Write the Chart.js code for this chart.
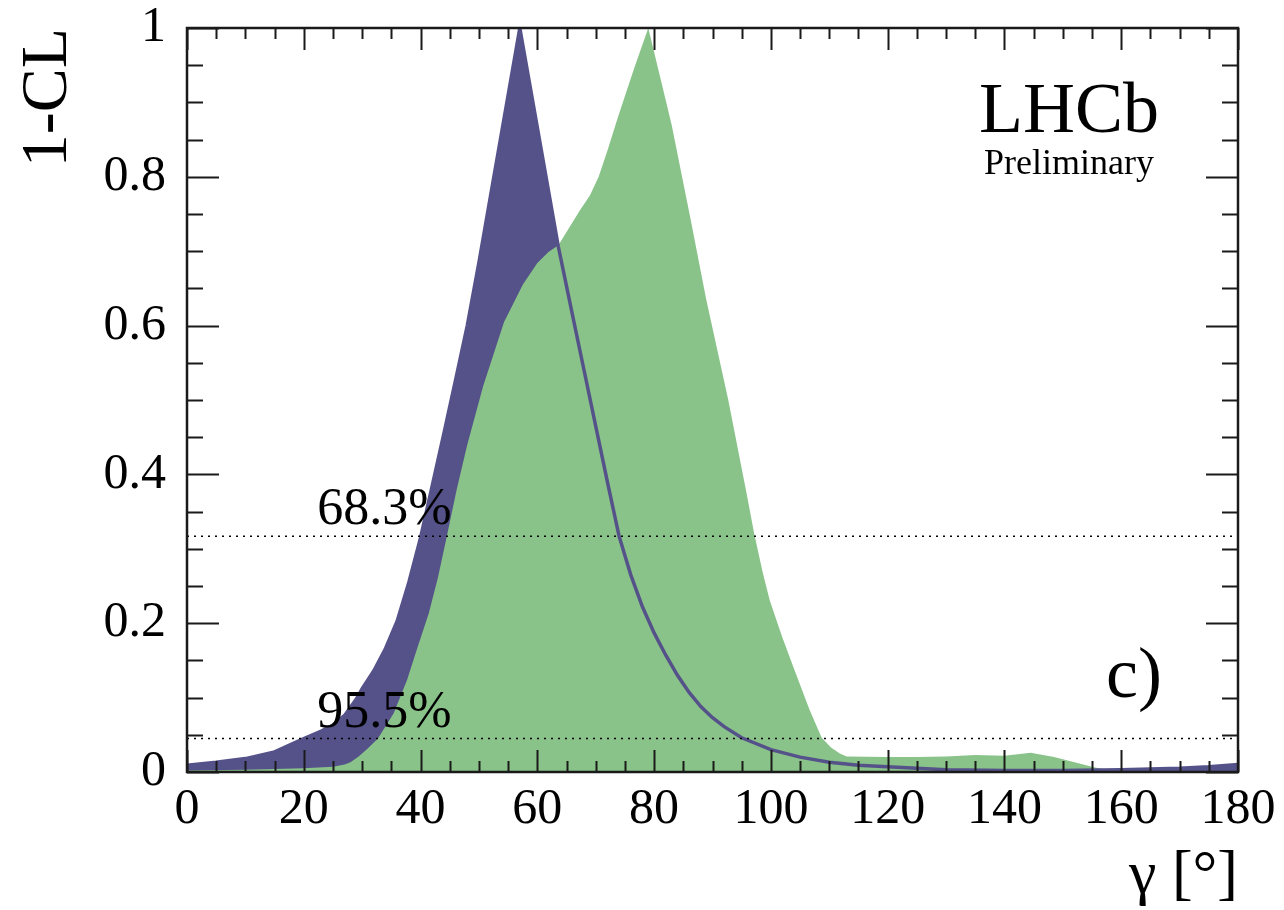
<!DOCTYPE html>
<html>
<head>
<meta charset="utf-8">
<script src="https://cdn.jsdelivr.net/npm/chart.js@4/dist/chart.umd.min.js"></script>
<style>
  html, body { margin: 0; padding: 0; background: #ffffff; }
  #wrap { width: 1284px; height: 910px; }
</style>
</head>
<body>
<div id="wrap"><canvas id="c" width="1284" height="910"></canvas></div>
<script>
// ---- data ----
const blueX = [0, 5, 10, 15, 20, 23, 25, 27, 29, 30, 32, 34, 36, 38, 40, 42, 44, 46, 48, 50, 52, 54, 56, 57, 63.6, 66, 68, 70, 72, 74, 76, 78, 80, 82, 84, 86, 88, 90, 92, 95, 100, 105, 110, 115, 120, 130, 140, 150, 160, 170, 175, 180];
const blueY = [0.009, 0.013, 0.018, 0.027, 0.045, 0.055, 0.063, 0.076, 0.098, 0.112, 0.136, 0.166, 0.203, 0.255, 0.315, 0.385, 0.455, 0.527, 0.600, 0.685, 0.775, 0.865, 0.955, 1.0, 0.706, 0.615, 0.540, 0.465, 0.390, 0.317, 0.265, 0.222, 0.187, 0.157, 0.130, 0.107, 0.088, 0.073, 0.061, 0.046, 0.030, 0.020, 0.013, 0.009, 0.007, 0.003, 0.002, 0.002, 0.003, 0.005, 0.007, 0.010];

const greenX = [0, 10, 20, 25, 27, 28, 29.4, 31, 32.7, 35.4, 37.7, 39.5, 41.4, 43, 44.5, 46.2, 48, 50.7, 54.3, 57.5, 60, 61.9, 63.6, 67.3, 69, 70.5, 72, 73.8, 76.5, 79, 81, 83, 86.2, 88.9, 92.7, 95.9, 97.1, 98.6, 99.8, 101, 102, 103.8, 106.6, 108.7, 110.3, 111.8, 113, 120, 125, 130, 135, 140, 144.5, 148.5, 152, 155.5, 158.5, 162, 170, 180];
const greenY = [0.002, 0.003, 0.005, 0.007, 0.010, 0.013, 0.021, 0.032, 0.045, 0.079, 0.124, 0.168, 0.213, 0.262, 0.317, 0.380, 0.440, 0.518, 0.605, 0.655, 0.684, 0.699, 0.708, 0.755, 0.775, 0.800, 0.835, 0.880, 0.944, 1.0, 0.935, 0.870, 0.745, 0.636, 0.500, 0.372, 0.322, 0.268, 0.231, 0.203, 0.180, 0.142, 0.084, 0.046, 0.033, 0.025, 0.021, 0.020, 0.020, 0.021, 0.023, 0.022, 0.026, 0.020, 0.013, 0.006, 0.002, 0.001, 0.001, 0.001];

const clLevels = [0.317, 0.045];
const clLabels = ['68.3%', '95.5%'];

const xRange = [0, 180];
const yRange = [0, 1];
const xMajorStep = 20, xMinorStep = 5;
const yMajorStep = 0.2, yMinorStep = 0.05;

// ---- styles ----
const BLUE = '#55528a';
const GREEN = '#89c389';
const SERIF = '"Liberation Serif", "DejaVu Serif", serif';

const toPts = (xs, ys) => xs.map((x, i) => ({ x: x, y: ys[i] }));

const framePlugin = {
  id: 'frameTicks',
  afterDatasetsDraw(chart) {
    const { ctx, chartArea: a, scales } = chart;
    const xs = scales.x, ys = scales.y;
    ctx.save();
    ctx.strokeStyle = '#1a1a1a';
    ctx.lineWidth = 2;
    ctx.beginPath();
    const nx = Math.round((xRange[1] - xRange[0]) / xMinorStep);
    for (let i = 0; i <= nx; i++) {
      const v = xRange[0] + i * xMinorStep;
      const major = (i % Math.round(xMajorStep / xMinorStep)) === 0;
      const L = major ? 22 : 11;
      const px = Math.round(xs.getPixelForValue(v)) + 0.5;
      ctx.moveTo(px, a.bottom); ctx.lineTo(px, a.bottom - L);
      ctx.moveTo(px, a.top); ctx.lineTo(px, a.top + L);
    }
    const ny = Math.round((yRange[1] - yRange[0]) / yMinorStep);
    for (let i = 0; i <= ny; i++) {
      const v = yRange[0] + i * yMinorStep;
      const major = (i % Math.round(yMajorStep / yMinorStep)) === 0;
      const L = major ? 32 : 16;
      const py = Math.round(ys.getPixelForValue(v)) + 0.5;
      ctx.moveTo(a.left, py); ctx.lineTo(a.left + L, py);
      ctx.moveTo(a.right, py); ctx.lineTo(a.right - L, py);
    }
    ctx.stroke();
    ctx.lineWidth = 2.5;
    ctx.strokeRect(a.left, a.top, a.right - a.left, a.bottom - a.top);

    // text annotations
    ctx.fillStyle = '#000';
    ctx.textBaseline = 'alphabetic';
    ctx.textAlign = 'left';
    ctx.font = '52px ' + SERIF;
    clLevels.forEach((lv, i) => {
      ctx.fillText(clLabels[i], xs.getPixelForValue(22.3), ys.getPixelForValue(lv) - 12);
    });
    ctx.textAlign = 'center';
    ctx.font = '72px ' + SERIF;
    ctx.fillText('LHCb', a.right - 169, a.top + 104);
    ctx.font = '36px ' + SERIF;
    ctx.fillText('Preliminary', a.right - 169, a.top + 146);
    ctx.textAlign = 'left';
    ctx.font = '72px ' + SERIF;
    ctx.fillText('c)', a.right - 132, a.bottom - 75);
    ctx.restore();
  }
};

const chart = new Chart(document.getElementById('c'), {
  type: 'line',
  data: {
    datasets: [
      {
        label: '68.3%', data: toPts(xRange, [clLevels[0], clLevels[0]]),
        borderColor: '#000', borderWidth: 1.5, borderDash: [2, 5], pointRadius: 0, fill: false, order: 0
      },
      {
        label: '95.5%', data: toPts(xRange, [clLevels[1], clLevels[1]]),
        borderColor: '#000', borderWidth: 1.5, borderDash: [2, 5], pointRadius: 0, fill: false, order: 0
      },
      {
        label: 'blue line', data: toPts(blueX, blueY),
        borderColor: BLUE, borderWidth: 3.5, pointRadius: 0, fill: false, tension: 0, order: 1
      },
      {
        label: 'green', data: toPts(greenX, greenY),
        borderColor: GREEN, borderWidth: 0, backgroundColor: GREEN, pointRadius: 0, fill: 'origin',
        tension: 0, order: 2
      },
      {
        label: 'blue', data: toPts(blueX, blueY),
        borderColor: BLUE, borderWidth: 0, backgroundColor: BLUE, pointRadius: 0, fill: 'origin',
        tension: 0, order: 3
      }
    ]
  },
  options: {
    responsive: false,
    animation: false,
    devicePixelRatio: 1,
    layout: { padding: { left: 0, right: 46, top: 28, bottom: 0 } },
    plugins: { legend: { display: false }, tooltip: { enabled: false } },
    scales: {
      x: {
        type: 'linear', min: xRange[0], max: xRange[1],
        grid: { display: false, drawTicks: false },
        border: { display: false },
        ticks: {
          stepSize: xMajorStep, color: '#000', padding: 8, maxRotation: 0, autoSkip: false,
          font: { family: SERIF, size: 50 }
        },
        title: {
          display: true, text: 'γ [°]', align: 'end', color: '#000',
          font: { family: SERIF, size: 62, lineHeight: 1.0 }, padding: { top: 0, bottom: 2 }
        },
        afterFit: (s) => { s.height = 138; s.paddingLeft = 0; s.paddingRight = 0; }
      },
      y: {
        type: 'linear', min: yRange[0], max: yRange[1],
        grid: { display: false, drawTicks: false },
        border: { display: false },
        ticks: {
          stepSize: yMajorStep, color: '#000', padding: 21, autoSkip: false,
          font: { family: SERIF, size: 50 },
          callback: (v) => (Math.round(v * 10) / 10).toString()
        },
        title: {
          display: true, text: '1-CL', align: 'end', color: '#000',
          font: { family: SERIF, size: 66, lineHeight: 1.0 }, padding: { top: 16, bottom: 0 }
        },
        afterFit: (s) => { s.width = 187; s.paddingTop = 0; s.paddingBottom = 0; }
      }
    }
  },
  plugins: [framePlugin]
});
</script>
</body>
</html>
